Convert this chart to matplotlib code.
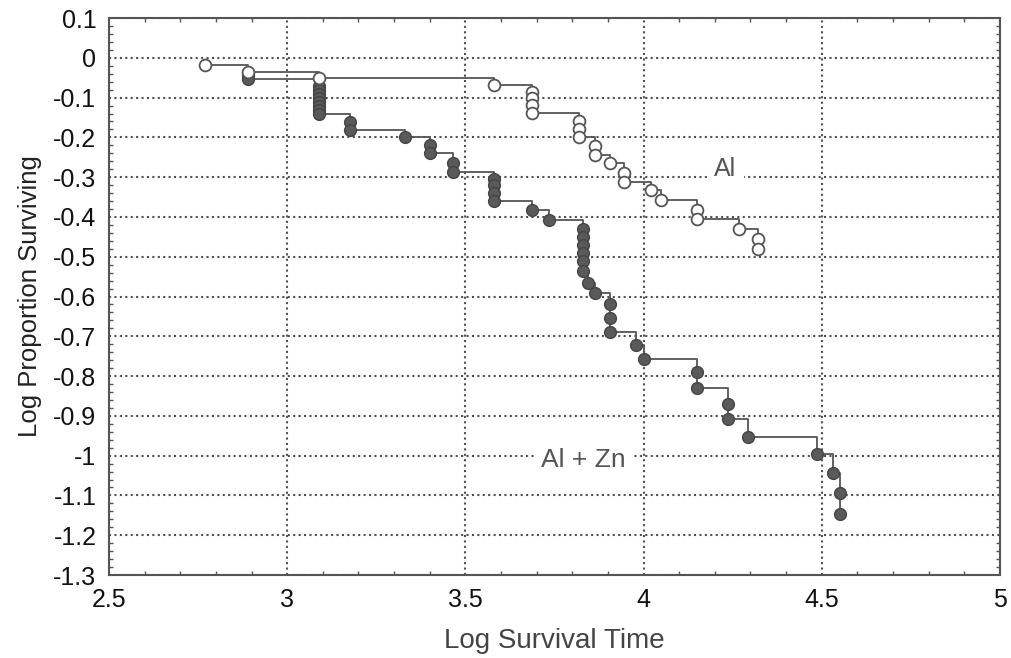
import numpy as np
import matplotlib
matplotlib.use("Agg")
import matplotlib.pyplot as plt
from matplotlib.ticker import MultipleLocator

plt.rcParams['font.family'] = ['Liberation Sans', 'DejaVu Sans']

# Al (open circles)
al_x = [2.77, 2.89, 3.09, 3.58, 3.686, 3.686, 3.686, 3.686, 3.82, 3.82, 3.82,
        3.865, 3.865, 3.907, 3.946, 3.946, 4.02, 4.05, 4.15, 4.15, 4.268, 4.32, 4.32]
al_y = [-0.018, -0.035, -0.05, -0.068, -0.085, -0.10, -0.118, -0.138, -0.16, -0.178, -0.198,
        -0.221, -0.244, -0.264, -0.289, -0.311, -0.331, -0.357, -0.382, -0.405, -0.43, -0.455, -0.48]

# Al + Zn (filled circles)
zn_x = [2.89, 2.89, 3.09, 3.09, 3.09, 3.09, 3.09, 3.09, 3.09, 3.09,
        3.177, 3.177, 3.33, 3.40, 3.40, 3.465, 3.465, 3.58, 3.58, 3.58, 3.58,
        3.686, 3.736, 3.83, 3.83, 3.83, 3.83, 3.83, 3.83, 3.845, 3.865,
        3.907, 3.907, 3.907, 3.98, 4.0, 4.15, 4.15, 4.237, 4.237, 4.293,
        4.488, 4.533, 4.55, 4.55]
zn_y = [-0.042, -0.052, -0.07, -0.08, -0.09, -0.10, -0.11, -0.12, -0.13, -0.14,
        -0.161, -0.181, -0.20, -0.22, -0.24, -0.264, -0.286, -0.305, -0.32, -0.34, -0.36,
        -0.382, -0.407, -0.43, -0.45, -0.47, -0.49, -0.51, -0.535, -0.565, -0.59,
        -0.62, -0.653, -0.688, -0.721, -0.756, -0.79, -0.83, -0.87, -0.907, -0.952,
        -0.997, -1.043, -1.093, -1.146]

line_col = "#555555"

fig = plt.figure(figsize=(10.12, 6.58), dpi=100)
ax = fig.add_axes([0.1077, 0.1261, 0.8803, 0.8465])

ax.plot(zn_x, zn_y, drawstyle="steps-post", color=line_col, lw=1.3, zorder=3)
ax.plot(zn_x, zn_y, "o", ms=8.5, mfc="#5a5a5a", mec="#444444", mew=1.0, zorder=4)
ax.plot(al_x, al_y, drawstyle="steps-post", color=line_col, lw=1.3, zorder=3)
ax.plot(al_x, al_y, "o", ms=8.5, mfc="white", mec="#555555", mew=1.3, zorder=5)

ax.text(4.23, -0.28, "Al", fontsize=18, color="#555555", ha="center", va="center",
        bbox=dict(facecolor="white", edgecolor="none", pad=5), zorder=2)
ax.text(3.83, -1.012, "Al + Zn", fontsize=19, color="#555555", ha="center", va="center",
        bbox=dict(facecolor="white", edgecolor="none", pad=5), zorder=2)

ax.set_xlim(2.5, 5)
ax.set_ylim(-1.3, 0.1)
ax.xaxis.set_minor_locator(MultipleLocator(0.1))
ax.yaxis.set_minor_locator(MultipleLocator(0.02))
xt = [2.5, 3, 3.5, 4, 4.5, 5]
ax.set_xticks(xt)
ax.set_xticklabels(["2.5", "3", "3.5", "4", "4.5", "5"])
yt = np.round(np.arange(-1.3, 0.11, 0.1), 1)
ax.set_yticks(yt)
ax.set_yticklabels(["0" if v == 0 else "%g" % v for v in yt])

ax.grid(True, which="major", linestyle=(0, (1, 1.6)), color="#505050", lw=1.5, zorder=1)
ax.set_axisbelow(True)
ax.tick_params(which="both", direction="in", top=True, right=True, color="#555555")
ax.tick_params(which="major", length=0, labelsize=18, labelcolor="#111111", pad=9)
ax.tick_params(which="minor", length=3, width=1)
for s in ax.spines.values():
    s.set_color("#555555")
    s.set_linewidth(1.5)

ax.set_xlabel("Log Survival Time", fontsize=20, color="#444444", labelpad=12)
ax.set_ylabel("Log Proportion Surviving", fontsize=18.5, color="#222222", labelpad=8)

fig.savefig("out.png", dpi=100)
